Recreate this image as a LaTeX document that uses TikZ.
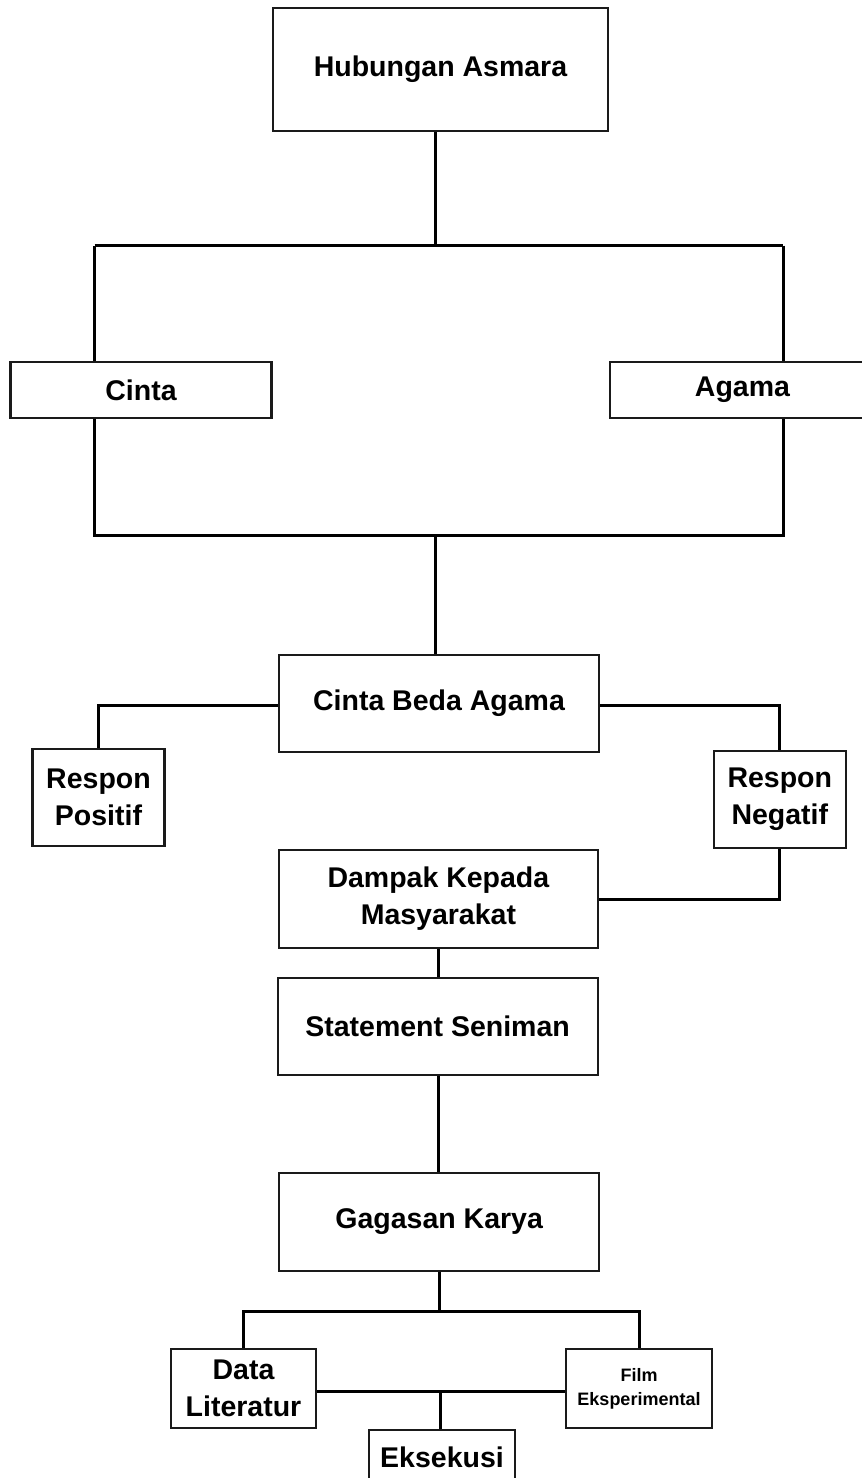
\documentclass[tikz,border=0pt]{standalone}
\usepackage{fontspec}
\setmainfont{Liberation Sans}
\usetikzlibrary{calc}
\definecolor{ink}{HTML}{1A1A1A}
\tikzset{
  box/.style={draw=ink, line width=2.2pt, rectangle, fill=white, inner sep=0pt, align=center,
    font=\bfseries\fontsize{28.5}{37}\selectfont},
  small/.style={font=\bfseries\fontsize{18}{23.7}\selectfont},
  conn/.style={draw=black, line width=3pt, line join=miter}
}
\begin{document}
\begin{tikzpicture}[x=1pt,y=-1pt]
\useasboundingbox (0,0) rectangle (862,1478);
\clip (0,0) rectangle (862,1478);
\fill[white] (0,0) rectangle (862,1478);
% coordinates of junctions
\coordinate (j1) at (435.5,245.5);
\coordinate (bl1) at (94.6,245.5);
\coordinate (br1) at (783,245.5);
\coordinate (j2) at (435.5,535.7);
\coordinate (bl2) at (94.6,535.7);
\coordinate (br2) at (783,535.7);
\coordinate (j3) at (439,1311.7);
\coordinate (j4) at (440,1391);

% connectors (drawn first, boxes on top)
\draw[conn] (435.5,131) -- (j1);
\draw[conn] (bl1) -- (br1);
\draw[conn] (bl1) -- (94.6,362);
\draw[conn] (br1) -- (783,362);
\draw[conn] (94.6,418) -- (bl2) -- (br2) -- (783,418);
\draw[conn] (j2) -- (435.5,655);

\node[box, minimum width=335pt, minimum height=123pt] (ha) at (440.5,69.5) {\raisebox{3pt}{Hubungan Asmara}};
\node[box, minimum width=261pt, minimum height=56pt] (cinta) at (141,390) {Cinta};
\node[box, minimum width=265pt, minimum height=56pt] (agama) at (742.5,390) {\raisebox{2pt}{Agama}};
\node[box, minimum width=320pt, minimum height=97pt] (cba) at (439,703.5) {Cinta Beda Agama};
\node[box, minimum width=132pt, minimum height=97.6pt] (rp) at (98.5,797.5) {Respon\\Positif};
\node[box, minimum width=132.4pt, minimum height=97.3pt] (rn) at (779.8,799.4) {Respon\\Negatif};
\node[box, minimum width=319.3pt, minimum height=97.4pt] (dampak) at (438.4,899) {Dampak Kepada\\Masyarakat};
\node[box, minimum width=320pt, minimum height=97pt] (stmt) at (437.6,1026.2) {Statement Seniman};
\node[box, minimum width=319.7pt, minimum height=97.4pt] (gagasan) at (439.2,1222) {Gagasan Karya};
\node[box, minimum width=145pt, minimum height=78.4pt] (dl) at (243.5,1388.5) {Data\\Literatur};
\node[box, small, minimum width=146pt, minimum height=78.4pt] (film) at (639,1388.5) {Film\\Eksperimental};
\node[box, minimum width=146pt, minimum height=54pt] (eks) at (442,1457) {Eksekusi};

% connectors between named nodes
\draw[conn] (cba.west |- 0,705.7) -| (rp.north);
\draw[conn] (cba.east |- 0,705.7) -| (rn.north);
\draw[conn] (rn.south) |- (dampak.east);
\draw[conn] (dampak.south -| 438,0) -- (stmt.north -| 438,0);
\draw[conn] (stmt.south -| 438,0) -- (gagasan.north -| 438,0);
\draw[conn] (gagasan.south -| j3) -- (j3);
\draw[conn] (dl.north) |- (j3) -| (film.north);
\draw[conn] (dl.east |- j4) -- (film.west |- j4);
\draw[conn] (j4) -- (eks.north -| j4);
\end{tikzpicture}
\end{document}
